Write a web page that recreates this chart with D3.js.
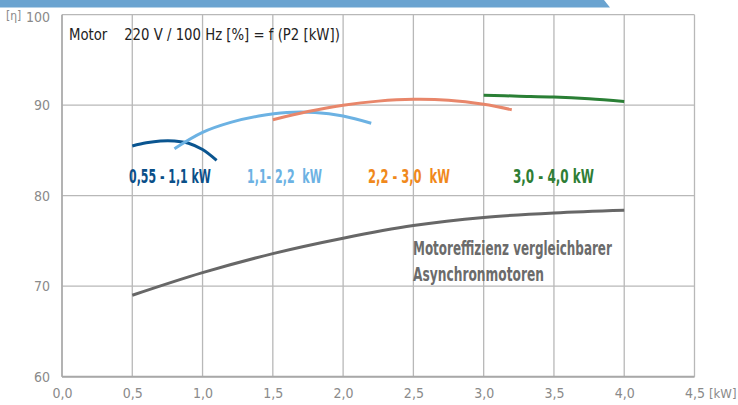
<!DOCTYPE html>
<html><head><meta charset="utf-8">
<script src="https://cdn.jsdelivr.net/npm/d3@7"></script>
<style>
html,body{margin:0;padding:0;background:#fff;}
svg{display:block;}
</style></head>
<body>
<svg id="c" width="738" height="405"></svg>
<script>
// ---- data ----
const xTicks = [0, 0.5, 1.0, 1.5, 2.0, 2.5, 3.0, 3.5, 4.0, 4.5];
const yTicks = [60, 70, 80, 90, 100];
const xTickLabels = ["0,0","0,5","1,0","1,5","2,0","2,5","3,0","3,5","4,0","4,5"];

const s1x = [0.5, 0.6, 0.7, 0.8, 0.9, 1.0, 1.1];
const s1y = [85.5, 85.85, 86.05, 86.05, 85.8, 85.1, 83.9];
const s2x = [0.8, 1.0, 1.2, 1.4, 1.6, 1.8, 2.0, 2.2];
const s2y = [85.2, 87.0, 88.1, 88.8, 89.2, 89.2, 88.8, 88.0];
const s3x = [1.5, 1.75, 2.0, 2.25, 2.5, 2.75, 3.0, 3.2];
const s3y = [88.4, 89.3, 90.0, 90.45, 90.65, 90.55, 90.1, 89.5];
const s4x = [3.0, 3.25, 3.5, 3.75, 4.0];
const s4y = [91.1, 91.0, 90.9, 90.7, 90.4];
const refX = [0.5, 1.0, 1.5, 2.0, 2.5, 3.0, 3.5, 4.0];
const refY = [69.0, 71.5, 73.6, 75.3, 76.7, 77.6, 78.1, 78.4];

const seriesNames = ["0,55 - 1,1 kW", "1,1- 2,2  kW", "2,2 - 3,0  kW", "3,0 - 4,0 kW"];
const refLabel = ["Motoreffizienz vergleichbarer", "Asynchronmotoren"];
const title = "Motor    220 V / 100 Hz [%] = f (P2 [kW])";

// ---- layout ----
const svg = d3.select("#c");
const L = 62, R = 694.5, T = 14.7, B = 376.7;
const x = d3.scaleLinear().domain([0, 4.5]).range([L, R]);
const y = d3.scaleLinear().domain([60, 100]).range([B, T]);
const tickFont = "'Liberation Sans Narrow','DejaVu Sans Condensed','Roboto',sans-serif";
const boldFont = "'Liberation Sans Narrow','DejaVu Sans Condensed','Roboto',sans-serif";

// fit text to a target width by horizontal scaling
function fitText(sel, x0, y0, w) {
  const n = sel.node();
  const natural = n.getComputedTextLength();
  const k = w / natural;
  sel.attr("x", 0).attr("y", 0)
     .attr("transform", `translate(${x0},${y0}) scale(${k},1)`);
}

// top banner
svg.append("path")
  .attr("d", "M0,0 L604,0 L610,7.5 L0,7.5 Z")
  .attr("fill", "#6aa3d0");

// grid
const g = svg.append("g");
g.selectAll("line.v").data(xTicks).join("line")
  .attr("x1", d => x(d)).attr("x2", d => x(d))
  .attr("y1", T).attr("y2", B)
  .attr("stroke", "#b8b8b8").attr("stroke-width", 1.3);
g.selectAll("line.h").data(yTicks).join("line")
  .attr("x1", L).attr("x2", R)
  .attr("y1", d => y(d)).attr("y2", d => y(d))
  .attr("stroke", "#b8b8b8").attr("stroke-width", 1.3);
svg.append("line").attr("x1", L).attr("x2", R).attr("y1", B).attr("y2", B)
  .attr("stroke", "#a8a8a8").attr("stroke-width", 2);
svg.append("line").attr("x1", L).attr("x2", L).attr("y1", T).attr("y2", B)
  .attr("stroke", "#a8a8a8").attr("stroke-width", 1.5);

// axes via d3
const xAxis = d3.axisBottom(x).tickValues(xTicks).tickSize(0)
  .tickFormat((d, i) => xTickLabels[i]);
const gx = svg.append("g").attr("transform", `translate(0,${B + 8})`).call(xAxis);
gx.select(".domain").remove();
gx.selectAll("text").attr("fill", "#8a8a8a").attr("font-size", 14)
  .attr("font-family", tickFont).attr("dy", "0.71em");

const yAxis = d3.axisLeft(y).tickValues(yTicks).tickSize(0).tickFormat(d => d);
const gy = svg.append("g").attr("transform", `translate(${L - 9},0)`).call(yAxis);
gy.select(".domain").remove();
gy.selectAll("text").attr("fill", "#8a8a8a").attr("font-size", 14)
  .attr("font-family", tickFont).attr("dy", "0.32em");
gy.selectAll(".tick").filter(d => d === 100).select("text").attr("dy", "0.5em");

svg.append("text").text("[η]").attr("x", 6).attr("y", 20)
  .attr("fill", "#8a8a8a").attr("font-size", 12).attr("font-family", tickFont);
svg.append("text").text("[kW]").attr("x", 709).attr("y", 398)
  .attr("fill", "#8a8a8a").attr("font-size", 13).attr("font-family", tickFont);

// title
const tt = svg.append("text").text(title)
  .attr("fill", "#222").attr("font-size", 16.5).attr("font-family", tickFont)
  .style("white-space", "pre").attr("xml:space", "preserve");
fitText(tt, 69, 39.5, 271);

// lines
const line = d3.line().x(d => x(d[0])).y(d => y(d[1])).curve(d3.curveCatmullRom);
const series = [
  {xs: s1x, ys: s1y, c: "#0a5590"},
  {xs: s2x, ys: s2y, c: "#6cb2e3"},
  {xs: s3x, ys: s3y, c: "#e8866a"},
  {xs: s4x, ys: s4y, c: "#2a7f35"},
  {xs: refX, ys: refY, c: "#676767"}
];
series.forEach(s => {
  svg.append("path").datum(s.xs.map((v, i) => [v, s.ys[i]]))
    .attr("d", line).attr("fill", "none").attr("stroke", s.c)
    .attr("stroke-width", 3).attr("stroke-linecap", "butt");
});

// series labels
const labelPos = [
  {x: 129, w: 82, c: "#0a4f88"},
  {x: 247, w: 75, c: "#6cb2e3"},
  {x: 368, w: 82, c: "#f0891c"},
  {x: 513, w: 81, c: "#2e7d34"}
];
seriesNames.forEach((n, i) => {
  const t = svg.append("text").text(n)
    .attr("fill", labelPos[i].c).attr("font-size", 19.5).attr("font-weight", "bold")
    .attr("font-family", boldFont).attr("xml:space", "preserve").style("white-space", "pre");
  fitText(t, labelPos[i].x, 182.5, labelPos[i].w);
});

refLabel.forEach((s, i) => {
  const t = svg.append("text").text(s)
    .attr("fill", "#6b6b6b").attr("font-size", 20).attr("font-weight", "bold")
    .attr("font-family", boldFont);
  fitText(t, 413, 255 + i * 26, i === 0 ? 199 : 131);
});
</script>
</body></html>
